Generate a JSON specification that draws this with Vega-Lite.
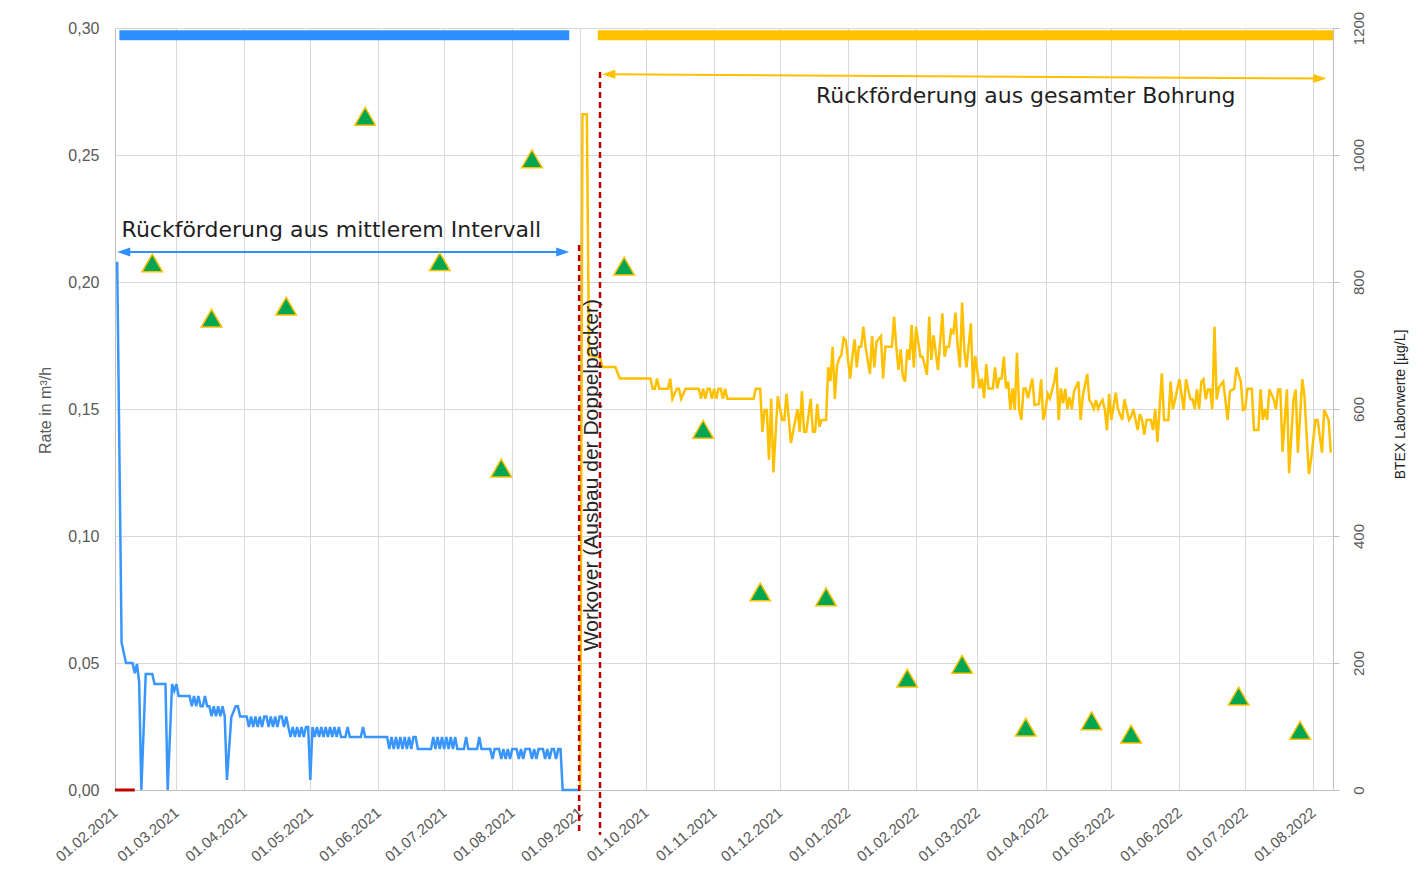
{
  "$schema": "https://vega.github.io/schema/vega-lite/v6.json",
  "width": 1218,
  "height": 762,
  "autosize": "none",
  "padding": {"left": 115, "top": 28, "right": 89, "bottom": 85},
  "background": "white",
  "config": {"view": {"stroke": null}, "font": "Liberation Sans"},
  "datasets": {
    "blau": [
      {"d":"2021-02-02","v":0.208},{"d":"2021-02-04","v":0.058},{"d":"2021-02-05","v":0.054},{"d":"2021-02-06","v":0.05},{"d":"2021-02-09","v":0.05},
      {"d":"2021-02-10","v":0.046},{"d":"2021-02-11","v":0.0496},{"d":"2021-02-12","v":0.0425},{"d":"2021-02-13","v":0},{"d":"2021-02-15","v":0.0457},
      {"d":"2021-02-18","v":0.0457},{"d":"2021-02-19","v":0.0417},{"d":"2021-02-24","v":0.0417},{"d":"2021-02-25","v":0},{"d":"2021-02-27","v":0.0417},
      {"d":"2021-02-28","v":0.039},{"d":"2021-03-01","v":0.0417},{"d":"2021-03-02","v":0.037},{"d":"2021-03-07","v":0.037},{"d":"2021-03-08","v":0.033},
      {"d":"2021-03-09","v":0.037},{"d":"2021-03-10","v":0.033},{"d":"2021-03-11","v":0.037},{"d":"2021-03-12","v":0.033},{"d":"2021-03-13","v":0.033},
      {"d":"2021-03-14","v":0.037},{"d":"2021-03-15","v":0.033},{"d":"2021-03-16","v":0.033},{"d":"2021-03-17","v":0.029},{"d":"2021-03-18","v":0.033},
      {"d":"2021-03-19","v":0.029},{"d":"2021-03-20","v":0.033},{"d":"2021-03-21","v":0.029},{"d":"2021-03-22","v":0.033},{"d":"2021-03-23","v":0.029},
      {"d":"2021-03-24","v":0.004},{"d":"2021-03-26","v":0.0287},{"d":"2021-03-28","v":0.033},{"d":"2021-03-29","v":0.033},{"d":"2021-03-30","v":0.0289},
      {"d":"2021-04-02","v":0.0289},{"d":"2021-04-03","v":0.0248},{"d":"2021-04-04","v":0.0289},{"d":"2021-04-05","v":0.0248},{"d":"2021-04-06","v":0.0289},
      {"d":"2021-04-07","v":0.0248},{"d":"2021-04-08","v":0.0289},{"d":"2021-04-09","v":0.0248},{"d":"2021-04-10","v":0.0289},{"d":"2021-04-11","v":0.0289},
      {"d":"2021-04-12","v":0.0248},{"d":"2021-04-13","v":0.0289},{"d":"2021-04-14","v":0.0248},{"d":"2021-04-15","v":0.0289},{"d":"2021-04-16","v":0.0248},
      {"d":"2021-04-17","v":0.0289},{"d":"2021-04-18","v":0.0289},{"d":"2021-04-19","v":0.0248},{"d":"2021-04-20","v":0.0289},{"d":"2021-04-21","v":0.0248},
      {"d":"2021-04-22","v":0.0209},{"d":"2021-04-23","v":0.0248},{"d":"2021-04-24","v":0.0209},{"d":"2021-04-25","v":0.0248},{"d":"2021-04-26","v":0.0209},
      {"d":"2021-04-27","v":0.0248},{"d":"2021-04-28","v":0.0209},{"d":"2021-04-29","v":0.0248},{"d":"2021-04-30","v":0.0248},{"d":"2021-05-01","v":0.004},
      {"d":"2021-05-02","v":0.0248},{"d":"2021-05-03","v":0.0209},{"d":"2021-05-04","v":0.0248},{"d":"2021-05-05","v":0.0209},{"d":"2021-05-06","v":0.0248},
      {"d":"2021-05-07","v":0.0209},{"d":"2021-05-08","v":0.0248},{"d":"2021-05-09","v":0.0209},{"d":"2021-05-10","v":0.0248},{"d":"2021-05-11","v":0.0209},
      {"d":"2021-05-12","v":0.0248},{"d":"2021-05-13","v":0.0209},{"d":"2021-05-14","v":0.0248},{"d":"2021-05-15","v":0.0209},{"d":"2021-05-17","v":0.0209},
      {"d":"2021-05-18","v":0.0248},{"d":"2021-05-19","v":0.0209},{"d":"2021-05-24","v":0.0209},{"d":"2021-05-25","v":0.0248},{"d":"2021-05-26","v":0.0209},
      {"d":"2021-06-05","v":0.0209},{"d":"2021-06-06","v":0.0161},{"d":"2021-06-07","v":0.0209},{"d":"2021-06-08","v":0.0161},{"d":"2021-06-09","v":0.0209},
      {"d":"2021-06-10","v":0.0161},{"d":"2021-06-11","v":0.0209},{"d":"2021-06-12","v":0.0161},{"d":"2021-06-13","v":0.0209},{"d":"2021-06-14","v":0.0161},
      {"d":"2021-06-15","v":0.0209},{"d":"2021-06-16","v":0.0161},{"d":"2021-06-17","v":0.0209},{"d":"2021-06-18","v":0.0209},{"d":"2021-06-19","v":0.0161},
      {"d":"2021-06-25","v":0.0161},{"d":"2021-06-26","v":0.0209},{"d":"2021-06-27","v":0.0161},{"d":"2021-06-28","v":0.0209},{"d":"2021-06-29","v":0.0161},
      {"d":"2021-06-30","v":0.0209},{"d":"2021-07-01","v":0.0161},{"d":"2021-07-02","v":0.0209},{"d":"2021-07-03","v":0.0161},{"d":"2021-07-04","v":0.0209},
      {"d":"2021-07-05","v":0.0161},{"d":"2021-07-06","v":0.0209},{"d":"2021-07-07","v":0.0161},{"d":"2021-07-10","v":0.0161},{"d":"2021-07-11","v":0.0209},
      {"d":"2021-07-12","v":0.0161},{"d":"2021-07-16","v":0.0161},{"d":"2021-07-17","v":0.0209},{"d":"2021-07-18","v":0.0161},{"d":"2021-07-22","v":0.0161},
      {"d":"2021-07-23","v":0.0122},{"d":"2021-07-24","v":0.0161},{"d":"2021-07-26","v":0.0161},{"d":"2021-07-27","v":0.0122},{"d":"2021-07-28","v":0.0161},
      {"d":"2021-07-29","v":0.0122},{"d":"2021-07-30","v":0.0161},{"d":"2021-07-31","v":0.0122},{"d":"2021-08-01","v":0.0161},{"d":"2021-08-03","v":0.0161},
      {"d":"2021-08-04","v":0.0122},{"d":"2021-08-05","v":0.0161},{"d":"2021-08-06","v":0.0122},{"d":"2021-08-07","v":0.0161},{"d":"2021-08-09","v":0.0161},
      {"d":"2021-08-10","v":0.0122},{"d":"2021-08-11","v":0.0161},{"d":"2021-08-12","v":0.0122},{"d":"2021-08-13","v":0.0161},{"d":"2021-08-15","v":0.0161},
      {"d":"2021-08-16","v":0.0122},{"d":"2021-08-17","v":0.0161},{"d":"2021-08-18","v":0.0122},{"d":"2021-08-19","v":0.0161},{"d":"2021-08-20","v":0.0161},
      {"d":"2021-08-21","v":0.0122},{"d":"2021-08-22","v":0.0161},{"d":"2021-08-23","v":0.0161},{"d":"2021-08-24","v":0},{"d":"2021-09-01","v":0}
    ],
    "rot": [{"d":"2021-02-01","v":0},{"d":"2021-02-10","v":0}],
    "gelb": [
      {"d":"2021-09-01","v":0},{"d":"2021-09-02","v":0.266},{"d":"2021-09-04","v":0.266},{"d":"2021-09-05","v":0.171},{"d":"2021-09-10","v":0.1705},
      {"d":"2021-09-11","v":0.1665},{"d":"2021-09-17","v":0.1665},{"d":"2021-09-19","v":0.162},{"d":"2021-10-03","v":0.162},{"d":"2021-10-04","v":0.158},
      {"d":"2021-10-05","v":0.158},{"d":"2021-10-06","v":0.162},{"d":"2021-10-07","v":0.158},{"d":"2021-10-11","v":0.158},{"d":"2021-10-12","v":0.162},
      {"d":"2021-10-13","v":0.154},{"d":"2021-10-15","v":0.158},{"d":"2021-10-16","v":0.158},{"d":"2021-10-17","v":0.154},{"d":"2021-10-19","v":0.158},
      {"d":"2021-10-25","v":0.158},{"d":"2021-10-26","v":0.154},{"d":"2021-10-27","v":0.158},{"d":"2021-10-28","v":0.154},{"d":"2021-10-29","v":0.158},
      {"d":"2021-10-30","v":0.158},{"d":"2021-10-31","v":0.154},{"d":"2021-11-01","v":0.158},{"d":"2021-11-02","v":0.154},{"d":"2021-11-03","v":0.158},
      {"d":"2021-11-04","v":0.158},{"d":"2021-11-05","v":0.154},{"d":"2021-11-06","v":0.158},{"d":"2021-11-07","v":0.154},{"d":"2021-11-19","v":0.154},
      {"d":"2021-11-20","v":0.158},{"d":"2021-11-22","v":0.158},{"d":"2021-11-23","v":0.141},{"d":"2021-11-24","v":0.1496},{"d":"2021-11-25","v":0.1496},
      {"d":"2021-11-26","v":0.130},{"d":"2021-11-27","v":0.154},{"d":"2021-11-28","v":0.125},{"d":"2021-11-30","v":0.155},{"d":"2021-12-02","v":0.1457},
      {"d":"2021-12-03","v":0.1457},{"d":"2021-12-04","v":0.156},{"d":"2021-12-06","v":0.1366},{"d":"2021-12-08","v":0.1457},{"d":"2021-12-09","v":0.150},
      {"d":"2021-12-10","v":0.141},{"d":"2021-12-11","v":0.157},{"d":"2021-12-12","v":0.141},{"d":"2021-12-13","v":0.141},{"d":"2021-12-15","v":0.154},
      {"d":"2021-12-16","v":0.141},{"d":"2021-12-17","v":0.141},{"d":"2021-12-18","v":0.152},{"d":"2021-12-19","v":0.143},{"d":"2021-12-20","v":0.1457},
      {"d":"2021-12-22","v":0.1457},{"d":"2021-12-23","v":0.1665},{"d":"2021-12-24","v":0.161},{"d":"2021-12-25","v":0.1745},{"d":"2021-12-26","v":0.154},
      {"d":"2021-12-27","v":0.167},{"d":"2021-12-28","v":0.170},{"d":"2021-12-29","v":0.1713},{"d":"2021-12-30","v":0.178},{"d":"2021-12-31","v":0.177},
      {"d":"2022-01-02","v":0.162},{"d":"2022-01-03","v":0.1706},{"d":"2022-01-04","v":0.1774},{"d":"2022-01-05","v":0.1664},{"d":"2022-01-06","v":0.1745},
      {"d":"2022-01-07","v":0.1745},{"d":"2022-01-08","v":0.1824},{"d":"2022-01-09","v":0.1745},{"d":"2022-01-11","v":0.1638},{"d":"2022-01-12","v":0.1787},
      {"d":"2022-01-13","v":0.1664},{"d":"2022-01-14","v":0.1765},{"d":"2022-01-16","v":0.1787},{"d":"2022-01-17","v":0.162},{"d":"2022-01-18","v":0.1745},
      {"d":"2022-01-21","v":0.1745},{"d":"2022-01-22","v":0.1864},{"d":"2022-01-23","v":0.1745},{"d":"2022-01-24","v":0.1654},{"d":"2022-01-25","v":0.1735},
      {"d":"2022-01-26","v":0.1627},{"d":"2022-01-27","v":0.1608},{"d":"2022-01-28","v":0.1735},{"d":"2022-01-29","v":0.1693},{"d":"2022-01-30","v":0.1831},
      {"d":"2022-01-31","v":0.1664},{"d":"2022-02-01","v":0.1824},{"d":"2022-02-03","v":0.1706},{"d":"2022-02-04","v":0.1706},{"d":"2022-02-06","v":0.1634},
      {"d":"2022-02-07","v":0.1864},{"d":"2022-02-08","v":0.1693},{"d":"2022-02-09","v":0.179},{"d":"2022-02-11","v":0.1654},{"d":"2022-02-13","v":0.1877},
      {"d":"2022-02-14","v":0.1706},{"d":"2022-02-15","v":0.1745},{"d":"2022-02-16","v":0.1745},{"d":"2022-02-17","v":0.181},{"d":"2022-02-18","v":0.180},
      {"d":"2022-02-19","v":0.1879},{"d":"2022-02-20","v":0.1745},{"d":"2022-02-21","v":0.1664},{"d":"2022-02-22","v":0.1919},{"d":"2022-02-23","v":0.1732},
      {"d":"2022-02-24","v":0.1664},{"d":"2022-02-26","v":0.1837},{"d":"2022-02-27","v":0.1581},{"d":"2022-02-28","v":0.1709},{"d":"2022-03-02","v":0.1581},
      {"d":"2022-03-03","v":0.162},{"d":"2022-03-04","v":0.1542},{"d":"2022-03-05","v":0.1677},{"d":"2022-03-06","v":0.1581},{"d":"2022-03-08","v":0.1581},
      {"d":"2022-03-09","v":0.1664},{"d":"2022-03-10","v":0.1581},{"d":"2022-03-11","v":0.162},{"d":"2022-03-12","v":0.162},{"d":"2022-03-13","v":0.1706},
      {"d":"2022-03-14","v":0.1581},{"d":"2022-03-15","v":0.1608},{"d":"2022-03-16","v":0.1496},{"d":"2022-03-17","v":0.1581},{"d":"2022-03-18","v":0.1496},
      {"d":"2022-03-19","v":0.1721},{"d":"2022-03-20","v":0.1496},{"d":"2022-03-21","v":0.1457},{"d":"2022-03-22","v":0.1581},{"d":"2022-03-23","v":0.1581},
      {"d":"2022-03-24","v":0.1542},{"d":"2022-03-25","v":0.1581},{"d":"2022-03-26","v":0.162},{"d":"2022-03-27","v":0.1516},{"d":"2022-03-29","v":0.152},
      {"d":"2022-03-30","v":0.1617},{"d":"2022-03-31","v":0.1457},{"d":"2022-04-01","v":0.1496},{"d":"2022-04-02","v":0.156},{"d":"2022-04-03","v":0.1542},
      {"d":"2022-04-05","v":0.1608},{"d":"2022-04-06","v":0.1664},{"d":"2022-04-07","v":0.1457},{"d":"2022-04-08","v":0.1581},{"d":"2022-04-09","v":0.1522},
      {"d":"2022-04-10","v":0.158},{"d":"2022-04-11","v":0.150},{"d":"2022-04-12","v":0.1546},{"d":"2022-04-13","v":0.150},{"d":"2022-04-14","v":0.157},
      {"d":"2022-04-16","v":0.1608},{"d":"2022-04-17","v":0.1457},{"d":"2022-04-18","v":0.155},{"d":"2022-04-20","v":0.1638},{"d":"2022-04-21","v":0.1535},
      {"d":"2022-04-22","v":0.1522},{"d":"2022-04-23","v":0.150},{"d":"2022-04-24","v":0.1535},{"d":"2022-04-25","v":0.150},{"d":"2022-04-26","v":0.1522},
      {"d":"2022-04-27","v":0.1535},{"d":"2022-04-28","v":0.150},{"d":"2022-04-29","v":0.1417},{"d":"2022-04-30","v":0.156},{"d":"2022-05-01","v":0.1457},
      {"d":"2022-05-03","v":0.1564},{"d":"2022-05-04","v":0.150},{"d":"2022-05-06","v":0.1457},{"d":"2022-05-07","v":0.1538},{"d":"2022-05-09","v":0.1457},
      {"d":"2022-05-10","v":0.147},{"d":"2022-05-11","v":0.150},{"d":"2022-05-13","v":0.1417},{"d":"2022-05-14","v":0.148},{"d":"2022-05-15","v":0.1457},
      {"d":"2022-05-16","v":0.1398},{"d":"2022-05-17","v":0.1457},{"d":"2022-05-19","v":0.1457},{"d":"2022-05-20","v":0.1417},{"d":"2022-05-21","v":0.150},
      {"d":"2022-05-22","v":0.137},{"d":"2022-05-24","v":0.164},{"d":"2022-05-25","v":0.1457},{"d":"2022-05-27","v":0.1457},{"d":"2022-05-28","v":0.1608},
      {"d":"2022-05-29","v":0.150},{"d":"2022-05-30","v":0.1535},{"d":"2022-06-01","v":0.1617},{"d":"2022-06-03","v":0.1496},{"d":"2022-06-04","v":0.1617},
      {"d":"2022-06-06","v":0.1538},{"d":"2022-06-07","v":0.1538},{"d":"2022-06-08","v":0.150},{"d":"2022-06-09","v":0.1577},{"d":"2022-06-10","v":0.150},
      {"d":"2022-06-11","v":0.1608},{"d":"2022-06-12","v":0.1617},{"d":"2022-06-13","v":0.1538},{"d":"2022-06-14","v":0.1577},{"d":"2022-06-15","v":0.1577},
      {"d":"2022-06-16","v":0.150},{"d":"2022-06-17","v":0.1824},{"d":"2022-06-18","v":0.1538},{"d":"2022-06-19","v":0.1585},{"d":"2022-06-21","v":0.1608},
      {"d":"2022-06-23","v":0.1457},{"d":"2022-06-24","v":0.157},{"d":"2022-06-26","v":0.158},{"d":"2022-06-27","v":0.1664},{"d":"2022-06-29","v":0.1608},
      {"d":"2022-06-30","v":0.1496},{"d":"2022-07-01","v":0.150},{"d":"2022-07-02","v":0.158},{"d":"2022-07-04","v":0.158},{"d":"2022-07-05","v":0.1417},
      {"d":"2022-07-07","v":0.1417},{"d":"2022-07-08","v":0.1577},{"d":"2022-07-09","v":0.1457},{"d":"2022-07-10","v":0.150},{"d":"2022-07-11","v":0.1457},
      {"d":"2022-07-12","v":0.1577},{"d":"2022-07-14","v":0.1538},{"d":"2022-07-15","v":0.150},{"d":"2022-07-16","v":0.1577},{"d":"2022-07-17","v":0.1577},
      {"d":"2022-07-18","v":0.1332},{"d":"2022-07-20","v":0.1577},{"d":"2022-07-21","v":0.1247},{"d":"2022-07-23","v":0.1538},{"d":"2022-07-24","v":0.1577},
      {"d":"2022-07-25","v":0.1328},{"d":"2022-07-27","v":0.1617},{"d":"2022-07-28","v":0.155},{"d":"2022-07-30","v":0.1244},{"d":"2022-07-31","v":0.130},
      {"d":"2022-08-02","v":0.1457},{"d":"2022-08-03","v":0.1457},{"d":"2022-08-05","v":0.1328},{"d":"2022-08-06","v":0.1496},{"d":"2022-08-08","v":0.1457},
      {"d":"2022-08-09","v":0.1328}
    ],
    "btex": [
      {"d":"2021-02-18","b":830},{"d":"2021-03-17","b":743},{"d":"2021-04-20","b":762},{"d":"2021-05-26","b":1061},{"d":"2021-06-29","b":832},
      {"d":"2021-07-27","b":507},{"d":"2021-08-10","b":994},{"d":"2021-09-21","b":825},{"d":"2021-10-27","b":568},{"d":"2021-11-22","b":312},
      {"d":"2021-12-22","b":304},{"d":"2022-01-28","b":176},{"d":"2022-02-22","b":198},{"d":"2022-03-23","b":99},{"d":"2022-04-22","b":109},
      {"d":"2022-05-10","b":88},{"d":"2022-06-28","b":148},{"d":"2022-07-26","b":94}
    ],
    "balken": [
      {"s":"mittel","d":"2021-02-03","d2":"2021-08-27","v":0.2971},
      {"s":"gesamt","d":"2021-09-09","d2":"2022-08-10","v":0.2971}
    ],
    "pfeile": [
      {"s":"mittel","d":"2021-02-05","d2":"2021-08-24","v":0.2118,"v2":0.2118},
      {"s":"gesamt","d":"2021-09-14","d2":"2022-08-04","v":0.2818,"v2":0.2801}
    ],
    "spitzen": [
      {"s":"mittel","dir":"links","d":"2021-02-05","v":0.2118},
      {"s":"mittel","dir":"rechts","d":"2021-08-24","v":0.2118},
      {"s":"gesamt","dir":"links","d":"2021-09-14","v":0.2818},
      {"s":"gesamt","dir":"rechts","d":"2022-08-04","v":0.2801}
    ],
    "workover": [
      {"d":"2021-08-31T12:00","v":0.2146,"v2":-0.0173},
      {"d":"2021-09-10","v":0.2827,"v2":-0.0177}
    ]
  },
  "encoding": {
    "x": {
      "field": "d", "type": "temporal",
      "scale": {"domain": [{"year": 2021, "month": 2, "date": 1}, {"year": 2022, "month": 8, "date": 10}], "nice": false},
      "axis": {
        "format": "%d.%m.%Y", "tickCount": {"interval": "month", "step": 1},
        "labelAngle": -40, "labelAlign": "right", "labelBaseline": "middle", "labelPadding": 20,
        "ticks": false, "tickSize": 0, "labelFontSize": 15, "labelColor": "#595959", "labelFont": "Liberation Sans",
        "grid": true, "gridColor": "#D9D9D9", "domainColor": "#BFBFBF", "title": null,
        "labelFlush": false, "labelOverlap": false, "labelBound": false
      }
    }
  },
  "layer": [
    {
      "encoding": {
        "y": {
          "field": "v", "type": "quantitative",
          "scale": {"domain": [0, 0.3], "nice": false, "zero": false},
          "axis": {
            "values": [0, 0.05, 0.1, 0.15, 0.2, 0.25, 0.3],
            "labelExpr": "replace(format(datum.value, '.2f'), '.', ',')",
            "title": "Rate in m³/h", "titleX": -70, "titleY": 382, "titleAngle": 270,
            "titleAlign": "center", "titleBaseline": "middle", "titleFontSize": 16, "titleFontWeight": "normal",
            "titleColor": "#595959", "titleFont": "Liberation Sans",
            "labelFontSize": 16, "labelColor": "#595959", "labelPadding": 16, "labelFont": "Liberation Sans",
            "ticks": false, "tickSize": 0, "grid": true, "gridColor": "#D9D9D9", "domainColor": "#BFBFBF"
          }
        }
      },
      "layer": [
        {"data": {"name": "rot"}, "mark": {"type": "line", "color": "#C00000", "strokeWidth": 3}, "encoding": {}},
        {"data": {"name": "blau"}, "mark": {"type": "line", "color": "#3A96FF", "strokeWidth": 2.5}, "encoding": {}},
        {"data": {"name": "gelb"}, "mark": {"type": "line", "color": "#FFC000", "strokeWidth": 2.5}, "encoding": {}},
        {"data": {"name": "workover"}, "mark": {"type": "rule", "color": "#C00000", "strokeWidth": 2.5, "strokeDash": [6, 4]}, "encoding": {"y2": {"field": "v2"}}},
        {"data": {"name": "balken"}, "mark": {"type": "rule", "strokeWidth": 10, "strokeCap": "butt"},
         "encoding": {"x2": {"field": "d2"}, "color": {"field": "s", "type": "nominal", "scale": {"domain": ["mittel", "gesamt"], "range": ["#2E8FFF", "#FFC000"]}, "legend": null}}},
        {"data": {"name": "pfeile"}, "mark": {"type": "rule", "strokeWidth": 2},
         "encoding": {"x2": {"field": "d2"}, "y2": {"field": "v2"}, "color": {"field": "s", "type": "nominal", "scale": {"domain": ["mittel", "gesamt"], "range": ["#3A96FF", "#FFC000"]}, "legend": null}}},
        {"data": {"name": "spitzen"}, "mark": {"type": "point", "filled": true, "opacity": 1, "size": 169},
         "encoding": {
           "shape": {"field": "dir", "type": "nominal", "scale": {"domain": ["links", "rechts"], "range": ["M-1,0L1,-0.7L1,0.7Z", "M1,0L-1,-0.7L-1,0.7Z"]}, "legend": null},
           "color": {"field": "s", "type": "nominal", "scale": {"domain": ["mittel", "gesamt"], "range": ["#3A96FF", "#FFC000"]}, "legend": null}
         }},
        {"data": {"values": [{"d": "2021-02-04", "v": 0.2177, "t": "Rückförderung aus mittlerem Intervall"}]},
         "mark": {"type": "text", "align": "left", "baseline": "alphabetic", "font": "DejaVu Sans", "fontSize": 22, "color": "#1F1F1F"},
         "encoding": {"text": {"field": "t"}}},
        {"data": {"values": [{"d": "2022-03-23", "v": 0.2705, "t": "Rückförderung aus gesamter Bohrung"}]},
         "mark": {"type": "text", "align": "center", "baseline": "alphabetic", "font": "DejaVu Sans", "fontSize": 22, "color": "#1F1F1F"},
         "encoding": {"text": {"field": "t"}}},
        {"data": {"values": [{"d": "2021-09-09", "v": 0.124, "t": "Workover (Ausbau der Doppelpacker)"}]},
         "mark": {"type": "text", "align": "center", "baseline": "alphabetic", "angle": 270, "font": "Liberation Sans", "fontSize": 21, "color": "#262626"},
         "encoding": {"text": {"field": "t"}}}
      ]
    },
    {
      "data": {"name": "btex"},
      "mark": {"type": "point", "shape": "triangle-up", "filled": true, "fill": "#00A651", "stroke": "#FFC000", "strokeWidth": 1.5, "size": 420, "opacity": 1},
      "encoding": {
        "y": {
          "field": "b", "type": "quantitative",
          "scale": {"domain": [0, 1200], "nice": false},
          "axis": {
            "orient": "right", "values": [0, 200, 400, 600, 800, 1000, 1200], "format": "d",
            "labelAngle": 270, "labelAlign": "center", "labelBaseline": "top", "labelPadding": 12,
            "ticks": true, "tickSize": 6, "tickColor": "#BFBFBF", "grid": false, "domainColor": "#BFBFBF",
            "labelColor": "#595959", "labelFontSize": 15, "labelFont": "Liberation Sans",
            "title": "BTEX Laborwerte [µg/L]", "titleX": 67, "titleY": 376, "titleAngle": 270,
            "titleAlign": "center", "titleBaseline": "middle", "titleFontSize": 14, "titleFontWeight": "normal",
            "titleColor": "#262626", "titleFont": "Liberation Sans"
          }
        }
      }
    }
  ],
  "resolve": {"scale": {"y": "independent", "color": "independent"}}
}
